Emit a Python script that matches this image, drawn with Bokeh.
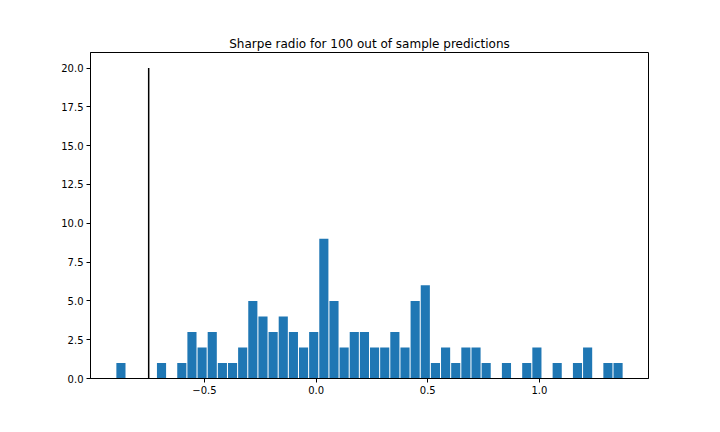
import numpy as np
from bokeh.plotting import figure
from bokeh.models import FixedTicker, Range1d, ColumnDataSource
from bokeh.embed import file_html
from bokeh.resources import INLINE

# Histogram of Sharpe ratios (50 bins)
counts = [1, 0, 0, 0, 1, 0, 1, 3, 2, 3,
          1, 1, 2, 5, 4, 3, 4, 3, 2, 3,
          9, 5, 2, 3, 3, 2, 2, 3, 2, 5,
          6, 1, 2, 1, 2, 2, 1, 0, 1, 0,
          1, 2, 0, 1, 0, 1, 2, 0, 1, 1]
data_min = -0.897
data_max = 1.375
vline_x = -0.75
vline_top = 20
title_text = "Sharpe radio for 100 out of sample predictions"
x_ticks = [-0.5, 0.0, 0.5, 1.0]
x_tick_labels = ["\u22120.5", "0.0", "0.5", "1.0"]
y_ticks = [0, 2.5, 5, 7.5, 10, 12.5, 15, 17.5, 20]
y_tick_labels = ["0.0", "2.5", "5.0", "7.5", "10.0", "12.5", "15.0", "17.5", "20.0"]

edges = np.linspace(data_min, data_max, len(counts) + 1)
bw = edges[1] - edges[0]
centers = (edges[:-1] + edges[1:]) / 2
src = ColumnDataSource(dict(x=centers, top=counts))

span = data_max - data_min
p = figure(width=720, height=432, output_backend="svg", toolbar_location=None,
           x_range=Range1d(data_min - 0.05 * span, data_max + 0.05 * span),
           y_range=Range1d(0, 21),
           min_border_left=90, min_border_right=72, min_border_top=52, min_border_bottom=54)
p.frame_width = 558
p.frame_height = 326

p.vbar(x="x", top="top", bottom=0, width=bw * 0.9, source=src,
       fill_color="#1f77b4", line_color=None)
p.segment(x0=[vline_x], y0=[0], x1=[vline_x], y1=[vline_top], line_color="black", line_width=1.5)

p.title.text = title_text
p.title.align = "center"
p.title.text_font = "DejaVu Sans"
p.title.text_font_size = "12px"
p.title.text_font_style = "normal"
p.title.text_color = "black"
p.title.standoff = 4

p.xgrid.visible = False
p.ygrid.visible = False
p.outline_line_color = "black"
p.outline_line_width = 1
p.background_fill_color = "white"
p.border_fill_color = "white"

for ax in (p.xaxis[0], p.yaxis[0]):
    ax.axis_line_color = "black"
    ax.major_tick_line_color = "black"
    ax.minor_tick_line_color = None
    ax.major_tick_out = 4
    ax.major_tick_in = 0
    ax.major_label_text_font = "DejaVu Sans"
    ax.major_label_text_font_size = "10px"
    ax.major_label_text_color = "black"
    ax.major_label_standoff = 3

p.xaxis.ticker = FixedTicker(ticks=x_ticks)
p.xaxis.major_label_overrides = {t: l for t, l in zip(x_ticks, x_tick_labels)}
p.yaxis.ticker = FixedTicker(ticks=y_ticks)
p.yaxis.major_label_overrides = {t: l for t, l in zip(y_ticks, y_tick_labels)}

open("out.html", "w").write(file_html(p, INLINE))
